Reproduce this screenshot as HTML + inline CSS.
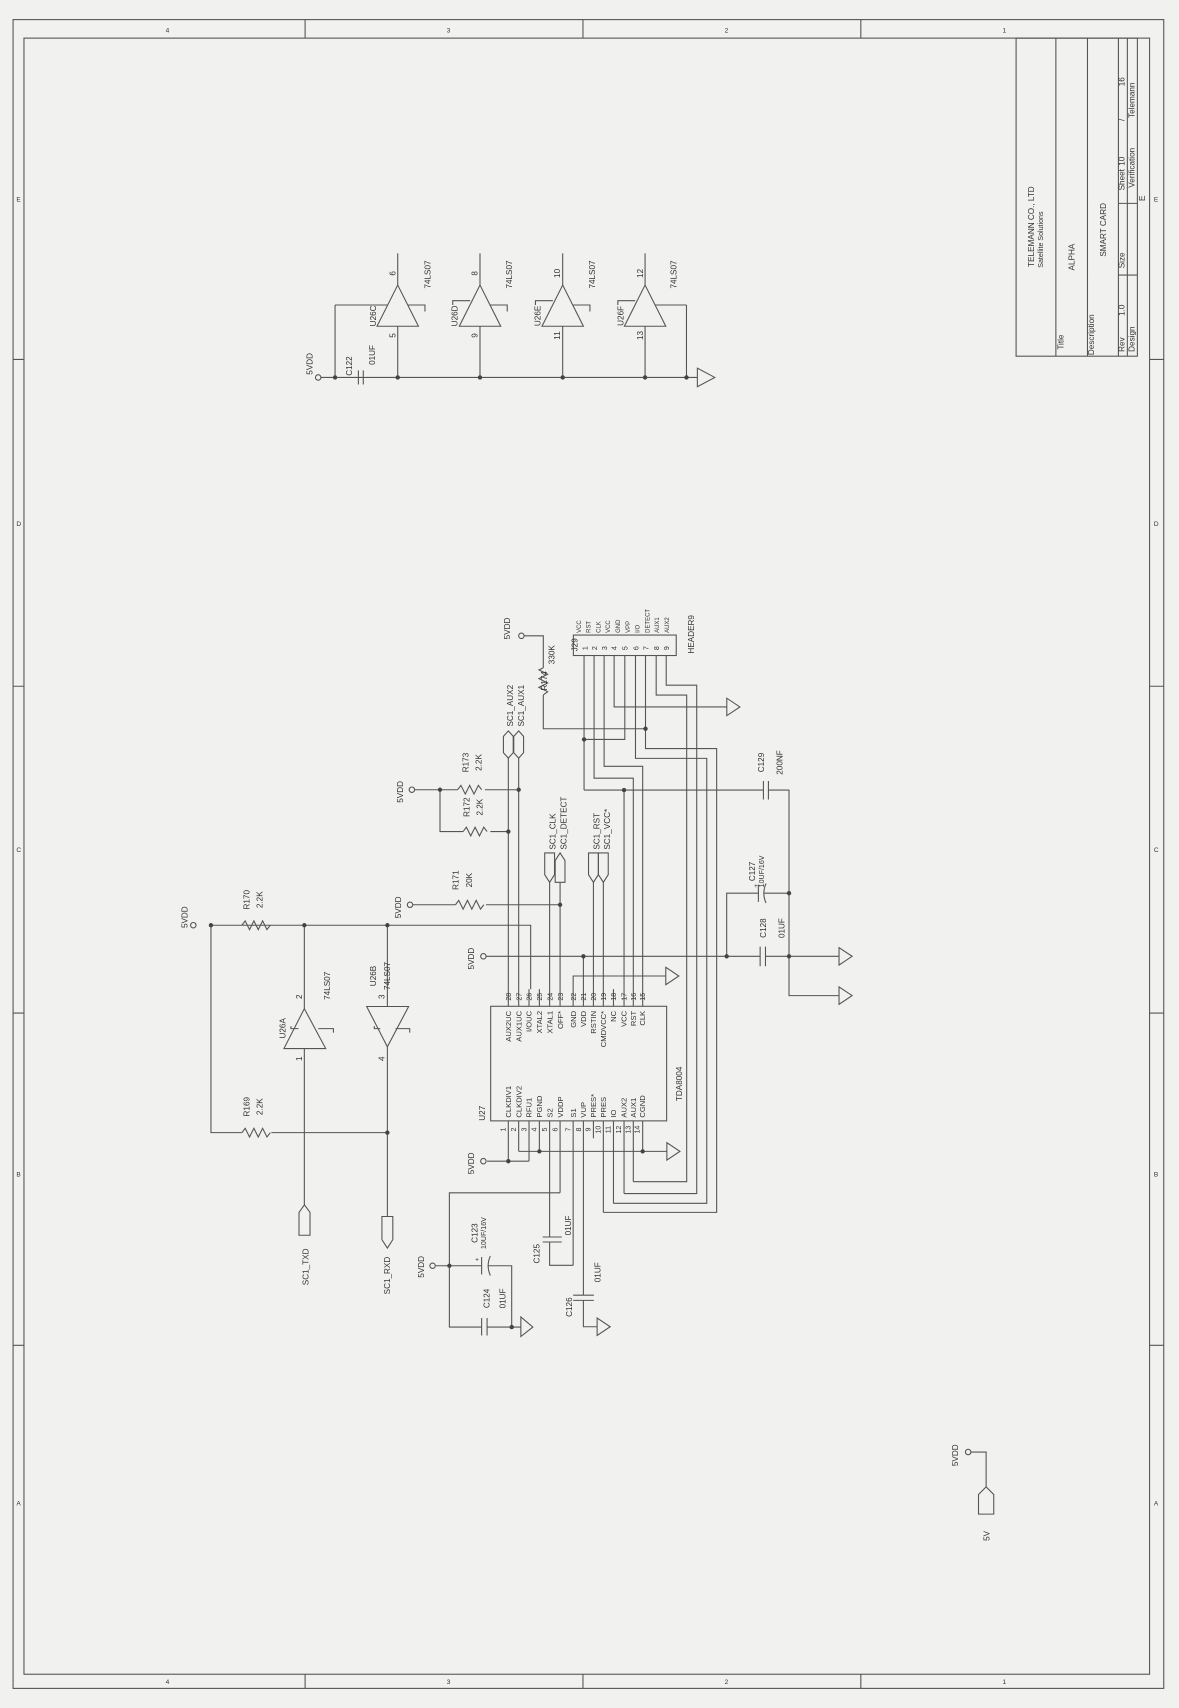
<!DOCTYPE html>
<html><head><meta charset="utf-8"><style>
html,body{margin:0;padding:0;background:#f1f1f0;}
svg{display:block}
text{font-family:"Liberation Sans",sans-serif;fill:#333;}
</style></head><body>
<svg width="1179" height="1708" viewBox="0 0 1082 1568" preserveAspectRatio="none" xmlns="http://www.w3.org/2000/svg">
<rect x="0" y="0" width="1082" height="1568" fill="#f1f1f0"/>
<g stroke="#555" stroke-width="1" fill="none">
<!-- frame -->
<rect x="12" y="18" width="1056" height="1532"/>
<rect x="22" y="35" width="1033" height="1502"/>
<path d="M280 18V35M535 18V35M790 18V35M280 1537V1550M535 1537V1550M790 1537V1550M12 330H22M12 630H22M12 930H22M12 1235H22M1055 330H1068M1055 630H1068M1055 930H1068M1055 1235H1068"/>
<!-- title block -->
<rect x="932.5" y="35" width="111.3" height="292"/>
<path d="M969 35V327M998 35V327M1026.4 35V327M1034.6 35V327M1026.4 252.5H1043.8M1026.4 186.7H1043.8"/>
<!-- top gates -->
<path d="M292 346.5H640M307.5 280V346.5M630 280V346.5M328.9 340V353M333.4 340V353"/>
<polygon points="640,338 640,355 656,346.5"/>
<polygon points="346,299.5 384,299.5 365,261.7"/>
<polygon points="421.5,299.5 459.5,299.5 440.5,261.7"/>
<polygon points="497.4,299.5 535.4,299.5 516.4,261.7"/>
<polygon points="573,299.5 611,299.5 592,261.7"/>
<path d="M365 232.6V261.7M365 299.5V346.5M440.5 232.6V261.7M440.5 299.5V346.5M516.4 232.6V261.7M516.4 299.5V346.5M592 232.6V261.7M592 299.5V346.5"/>
<path d="M307.5 280H356M374 280H390V286M415.5 280V276H431.5M449.5 280H465.5V286M491.4 280V276H507.4M525.4 280H541.4V286M567 280V276H583M601 280H630"/>
<!-- U26A / U26B -->
<path d="M193.6 849.4H487V908M193.6 849.4V1039.8H222M249 1039.8H355.5M279.3 849.4V926M279.3 962.6V1106M355.5 849.4V924M355.5 961V1116.8"/>
<path d="M222 849.4l3 -4l4 8l4 -8l4 8l4 -8l4 8l3 -4"/>
<path d="M222 1039.8l3 -4l4 8l4 -8l4 8l4 -8l4 8l3 -4"/>
<polygon points="260.6,962.6 298.9,962.6 279.3,926"/>
<polygon points="336.5,924 375,924 355.5,961"/>
<path d="M267 942V944.3H274M292 944.3H306V948M343.5 942V944.3H349M363 944.3H376V948"/>
<polygon points="274.4,1134 284.5,1134 284.5,1113 279.4,1106 274.4,1113"/>
<polygon points="350.5,1116.8 360.5,1116.8 360.5,1138 355.5,1145.8 350.5,1138"/>
<!-- U27 -->
<rect x="450.3" y="923.8" width="161.5" height="105.2"/>
<path d="M466.5 908V924M476 908V924M485.5 908V924M495 908V924M504.4 908V924M514 908V924M526 908V924M535.4 908V924M544.6 908V924M553.7 908V924M563 908V924M572.7 908V924M581.2 908V924M589.8 908V924"/>
<path d="M466.5 1029V1066M476 1029V1057M485.5 1029V1066M495 1029V1057M504.4 1029V1135.6M514 1029V1095M526 1029V1161.6M535.4 1029V1189M544.6 1029V1045M553.7 1029V1113M563 1029V1104.7M572.7 1029V1095.7M581.2 1029V1084.8M589.8 1029V1057"/>
<!-- upper nets -->
<path d="M466.5 696V908M476 696V908M378 725H420M445 725H476M403.8 725V763.4H425M450 763.4H466.5"/>
<path d="M420 725l3 -4l4 8l4 -8l4 8l4 -8l3 4"/>
<path d="M425 763.4l3 -4l4 8l4 -8l4 8l4 -8l3 4"/>
<path d="M378 830.6H418M446 830.6H514M504.4 810V908M514 810V908M544.6 810V908M553.7 810V908"/>
<path d="M418 830.6l3 -4l4 8l4 -8l4 8l4 -8l4 8l3 -4"/>
<path d="M526 908V896H611"/>
<polygon points="611,888 611,904 623,896"/>
<path d="M446 877.9H697.6M702.5 877.9H770M535.4 877.9V908M697.6 869V887M702.5 869V887"/>
<polygon points="770,870 770,886 782,877.9"/>
<path d="M666.9 877.9V820H696M701 820H724.1M724.1 725V914H770M696 812V828"/>
<path d="M703 811Q699 820 703 829"/>
<polygon points="770,906 770,922 782,914"/>
<path d="M536 725.3H700.6M705.2 725.3H724.1M700.6 717V734M705.2 717V734M572.7 725.3V908"/>
<!-- header -->
<rect x="526.2" y="583" width="94.4" height="18.8"/>
<path d="M536 601.8V725.3M536 678.8H573.4V601.8M545.2 601.8V714.4H581.2V908M554.4 601.8V703.5H589.8V908M563.6 601.8V649H667"/>
<polygon points="667,641 667,657 679,649"/>
<path d="M583.2 601.8V696.2H648.6V1104.7H563M592.4 601.8V687.2H657.7V1113H553.7M602.2 601.8V638.1H630.2V1084.8H581.2M611.4 601.8V629H639.4V1095.7H572.7"/>
<path d="M481 583.7H498.6V613M498.6 638V669H592.4"/>
<path d="M498.6 613l-4 2l8 4l-8 4l8 4l-8 4l8 4l-4 3"/>
<!-- connectors -->
<polygon points="466.5,671 471,676 471,691 466.5,696 462,691 462,676"/>
<polygon points="476,671 480.5,676 480.5,691 476,696 471.5,691 471.5,676"/>
<polygon points="499.9,783 508.9,783 508.9,803 504.4,810 499.9,803"/>
<polygon points="514,783 518.5,790 518.5,810 509.5,810 509.5,790"/>
<polygon points="540.1,783 549.1,783 549.1,803 544.6,810 540.1,803"/>
<polygon points="549.2,783 558.2,783 558.2,803 553.7,810 549.2,803"/>
<!-- bottom nets -->
<path d="M476 1057H612M447 1066H485.5"/>
<polygon points="612,1049 612,1065 624,1057"/>
<path d="M514 1095H412.4V1218.3H442M447 1218.3H469.6M400 1162H442M447.5 1162H469.6V1218.3H478M442 1210V1226M447 1210V1226M442 1154V1170"/>
<path d="M450 1153Q446 1162 450 1171"/>
<polygon points="478,1209 478,1227 489,1218.3"/>
<path d="M498 1135.6H515.5M498 1140.2H515.5M504.4 1140.2V1161.6H526M526 1189H545M526 1193.8H545M535.4 1193.8V1218H548"/>
<polygon points="548,1210 548,1226 560,1218"/>
<path d="M891 1333H905V1365"/>
<polygon points="898,1390 912,1390 912,1372 905,1365 898,1372"/>
</g>
<!-- circles -->
<g stroke="#555" stroke-width="1" fill="#f1f1f0">
<circle cx="292" cy="346.5" r="2.5"/><circle cx="177.4" cy="849.4" r="2.5"/><circle cx="376.3" cy="830.6" r="2.5"/>
<circle cx="378" cy="725" r="2.5"/><circle cx="443.6" cy="877.9" r="2.5"/><circle cx="443.6" cy="1066" r="2.5"/>
<circle cx="397" cy="1162" r="2.5"/><circle cx="478.5" cy="583.7" r="2.5"/><circle cx="888.5" cy="1333" r="2.5"/>
</g>
<g fill="#444">
<circle cx="307.5" cy="346.5" r="2"/><circle cx="365" cy="346.5" r="2"/><circle cx="440.5" cy="346.5" r="2"/><circle cx="516.4" cy="346.5" r="2"/><circle cx="592" cy="346.5" r="2"/><circle cx="630" cy="346.5" r="2"/>
<circle cx="193.6" cy="849.4" r="2"/><circle cx="279.3" cy="849.4" r="2"/><circle cx="355.5" cy="849.4" r="2"/><circle cx="355.5" cy="1039.8" r="2"/>
<circle cx="403.8" cy="725" r="2"/><circle cx="476" cy="725" r="2"/><circle cx="466.5" cy="763.4" r="2"/><circle cx="514" cy="830.6" r="2"/>
<circle cx="535.4" cy="877.9" r="2"/><circle cx="666.9" cy="877.9" r="2"/><circle cx="724.1" cy="877.9" r="2"/><circle cx="724.1" cy="820" r="2"/>
<circle cx="572.7" cy="725.3" r="2"/><circle cx="536" cy="678.8" r="2"/><circle cx="592.4" cy="669" r="2"/>
<circle cx="466.5" cy="1066" r="2"/><circle cx="495" cy="1057" r="2"/><circle cx="589.8" cy="1057" r="2"/>
<circle cx="412.4" cy="1162" r="2"/><circle cx="469.6" cy="1218.3" r="2"/>
</g>
<!-- frame labels -->
<g font-size="6">
<text x="152" y="30">4</text><text x="410" y="30">3</text><text x="665" y="30">2</text><text x="920" y="30">1</text>
<text x="152" y="1546">4</text><text x="410" y="1546">3</text><text x="665" y="1546">2</text><text x="920" y="1546">1</text>
<text x="15" y="185">E</text><text x="15" y="483">D</text><text x="15" y="782">C</text><text x="15" y="1080">B</text><text x="15" y="1382">A</text>
<text x="1059" y="185">E</text><text x="1059" y="483">D</text><text x="1059" y="782">C</text><text x="1059" y="1080">B</text><text x="1059" y="1382">A</text>
</g>
<!-- rotated texts -->
<g font-size="7.5">
<text transform="translate(949,208) rotate(-90)" text-anchor="middle">TELEMANN CO., LTD</text>
<text transform="translate(957,220) rotate(-90)" text-anchor="middle" font-size="6.5">Satellite Solutions</text>
<text transform="translate(976,321) rotate(-90)">Title</text>
<text transform="translate(986,236) rotate(-90)" text-anchor="middle">ALPHA</text>
<text transform="translate(1004,326) rotate(-90)">Description</text>
<text transform="translate(1015,211) rotate(-90)" text-anchor="middle">SMART CARD</text>
<text transform="translate(1032,323) rotate(-90)">Rev</text>
<text transform="translate(1032,290) rotate(-90)">1.0</text>
<text transform="translate(1032,239) rotate(-90)" text-anchor="middle">Size</text>
<text transform="translate(1032,165) rotate(-90)" text-anchor="middle">Sheet</text>
<text transform="translate(1032,148) rotate(-90)" text-anchor="middle">10</text>
<text transform="translate(1032,110) rotate(-90)" text-anchor="middle">/</text>
<text transform="translate(1032,75) rotate(-90)" text-anchor="middle">16</text>
<text transform="translate(1041,323) rotate(-90)">Design</text>
<text transform="translate(1041,154) rotate(-90)" text-anchor="middle">Verification</text>
<text transform="translate(1041,92) rotate(-90)" text-anchor="middle">Telemann</text>
<text transform="translate(1051,182) rotate(-90)" text-anchor="middle">E</text>

<text transform="translate(287,344) rotate(-90)">5VDD</text>
<text transform="translate(323,345) rotate(-90)">C122</text>
<text transform="translate(344,335) rotate(-90)">01UF</text>
<text transform="translate(395,252) rotate(-90)" text-anchor="middle">74LS07</text>
<text transform="translate(470,252) rotate(-90)" text-anchor="middle">74LS07</text>
<text transform="translate(546,252) rotate(-90)" text-anchor="middle">74LS07</text>
<text transform="translate(621,252) rotate(-90)" text-anchor="middle">74LS07</text>
<text transform="translate(345,290) rotate(-90)" text-anchor="middle">U26C</text>
<text transform="translate(420,290) rotate(-90)" text-anchor="middle">U26D</text>
<text transform="translate(496,290) rotate(-90)" text-anchor="middle">U26E</text>
<text transform="translate(572,290) rotate(-90)" text-anchor="middle">U26F</text>
<text transform="translate(363,251) rotate(-90)" text-anchor="middle">6</text>
<text transform="translate(363,308) rotate(-90)" text-anchor="middle">5</text>
<text transform="translate(438,251) rotate(-90)" text-anchor="middle">8</text>
<text transform="translate(438,308) rotate(-90)" text-anchor="middle">9</text>
<text transform="translate(514,251) rotate(-90)" text-anchor="middle">10</text>
<text transform="translate(514,308) rotate(-90)" text-anchor="middle">11</text>
<text transform="translate(590,251) rotate(-90)" text-anchor="middle">12</text>
<text transform="translate(590,308) rotate(-90)" text-anchor="middle">13</text>

<text transform="translate(172,842) rotate(-90)" text-anchor="middle">5VDD</text>
<text transform="translate(229,826) rotate(-90)" text-anchor="middle">R170</text>
<text transform="translate(241,826) rotate(-90)" text-anchor="middle">2.2K</text>
<text transform="translate(229,1016) rotate(-90)" text-anchor="middle">R169</text>
<text transform="translate(241,1016) rotate(-90)" text-anchor="middle">2.2K</text>
<text transform="translate(262,944) rotate(-90)" text-anchor="middle">U26A</text>
<text transform="translate(303,905) rotate(-90)" text-anchor="middle">74LS07</text>
<text transform="translate(345,896) rotate(-90)" text-anchor="middle">U26B</text>
<text transform="translate(358,896) rotate(-90)" text-anchor="middle">74LS07</text>
<text transform="translate(277,915) rotate(-90)" text-anchor="middle">2</text>
<text transform="translate(277,972) rotate(-90)" text-anchor="middle">1</text>
<text transform="translate(353,915) rotate(-90)" text-anchor="middle">3</text>
<text transform="translate(353,972) rotate(-90)" text-anchor="middle">4</text>
<text transform="translate(283,1163) rotate(-90)" text-anchor="middle">SC1_TXD</text>
<text transform="translate(358,1171) rotate(-90)" text-anchor="middle">SC1_RXD</text>

<text transform="translate(368,833) rotate(-90)" text-anchor="middle">5VDD</text>
<text transform="translate(421,808) rotate(-90)" text-anchor="middle">R171</text>
<text transform="translate(433,808) rotate(-90)" text-anchor="middle">20K</text>
<text transform="translate(370,727) rotate(-90)" text-anchor="middle">5VDD</text>
<text transform="translate(430,700) rotate(-90)" text-anchor="middle">R173</text>
<text transform="translate(442,700) rotate(-90)" text-anchor="middle">2.2K</text>
<text transform="translate(431,741) rotate(-90)" text-anchor="middle">R172</text>
<text transform="translate(443,741) rotate(-90)" text-anchor="middle">2.2K</text>
<text transform="translate(471,667) rotate(-90)">SC1_AUX2</text>
<text transform="translate(481,667) rotate(-90)">SC1_AUX1</text>
<text transform="translate(510,780) rotate(-90)">SC1_CLK</text>
<text transform="translate(520,780) rotate(-90)">SC1_DETECT</text>
<text transform="translate(550,780) rotate(-90)">SC1_RST</text>
<text transform="translate(560,780) rotate(-90)">SC1_VCC*</text>
<text transform="translate(468,577) rotate(-90)" text-anchor="middle">5VDD</text>
<text transform="translate(502,625) rotate(-90)" text-anchor="middle">R174</text>
<text transform="translate(509,601) rotate(-90)" text-anchor="middle">330K</text>
<text transform="translate(530,598) rotate(-90)">J29</text>
<text transform="translate(637,600) rotate(-90)">HEADER9</text>
<text transform="translate(435,880) rotate(-90)" text-anchor="middle">5VDD</text>
<text transform="translate(435,1068) rotate(-90)" text-anchor="middle">5VDD</text>
<text transform="translate(389,1163) rotate(-90)" text-anchor="middle">5VDD</text>
<text transform="translate(445,1022) rotate(-90)" text-anchor="middle">U27</text>
<text transform="translate(626,995) rotate(-90)" text-anchor="middle">TDA8004</text>
<text transform="translate(701,700) rotate(-90)" text-anchor="middle">C129</text>
<text transform="translate(718,700) rotate(-90)" text-anchor="middle">200NF</text>
<text transform="translate(693,800) rotate(-90)" text-anchor="middle">C127</text>
<text transform="translate(701,800) rotate(-90)" text-anchor="middle" font-size="6.5">10UF/16V</text>
<text transform="translate(703,852) rotate(-90)" text-anchor="middle">C128</text>
<text transform="translate(720,852) rotate(-90)" text-anchor="middle">01UF</text>
<text transform="translate(438,1132) rotate(-90)" text-anchor="middle">C123</text>
<text transform="translate(446,1132) rotate(-90)" text-anchor="middle" font-size="6.5">10UF/16V</text>
<text transform="translate(449,1192) rotate(-90)" text-anchor="middle">C124</text>
<text transform="translate(464,1192) rotate(-90)" text-anchor="middle">01UF</text>
<text transform="translate(495,1151) rotate(-90)" text-anchor="middle">C125</text>
<text transform="translate(524,1125) rotate(-90)" text-anchor="middle">01UF</text>
<text transform="translate(525,1200) rotate(-90)" text-anchor="middle">C126</text>
<text transform="translate(551,1168) rotate(-90)" text-anchor="middle">01UF</text>
<text transform="translate(879,1336) rotate(-90)" text-anchor="middle">5VDD</text>
<text transform="translate(908,1410) rotate(-90)" text-anchor="middle">5V</text>
</g>
<!-- header pin names -->
<g font-size="5.5" font-family="Liberation Serif">
<text transform="translate(533,581) rotate(-90)">VCC</text>
<text transform="translate(542,581) rotate(-90)">RST</text>
<text transform="translate(551,581) rotate(-90)">CLK</text>
<text transform="translate(560,581) rotate(-90)">VCC</text>
<text transform="translate(569,581) rotate(-90)">GND</text>
<text transform="translate(578,581) rotate(-90)">VPP</text>
<text transform="translate(587,581) rotate(-90)">I/O</text>
<text transform="translate(596,581) rotate(-90)">DETECT</text>
<text transform="translate(605,581) rotate(-90)">AUX1</text>
<text transform="translate(614,581) rotate(-90)">AUX2</text>
</g>
<g font-size="6.5" text-anchor="middle">
<text transform="translate(539,595) rotate(-90)">1</text><text transform="translate(548,595) rotate(-90)">2</text><text transform="translate(557,595) rotate(-90)">3</text><text transform="translate(566,595) rotate(-90)">4</text><text transform="translate(576,595) rotate(-90)">5</text><text transform="translate(586,595) rotate(-90)">6</text><text transform="translate(595,595) rotate(-90)">7</text><text transform="translate(605,595) rotate(-90)">8</text><text transform="translate(614,595) rotate(-90)">9</text>
</g>
<!-- IC pin numbers -->
<g font-size="6.5" text-anchor="middle">
<text transform="translate(469,915) rotate(-90)">28</text><text transform="translate(478.5,915) rotate(-90)">27</text><text transform="translate(488,915) rotate(-90)">26</text><text transform="translate(497.5,915) rotate(-90)">25</text><text transform="translate(507,915) rotate(-90)">24</text><text transform="translate(516.5,915) rotate(-90)">23</text><text transform="translate(528.5,915) rotate(-90)">22</text><text transform="translate(538,915) rotate(-90)">21</text><text transform="translate(547,915) rotate(-90)">20</text><text transform="translate(556,915) rotate(-90)">19</text><text transform="translate(565.5,915) rotate(-90)">18</text><text transform="translate(575,915) rotate(-90)">17</text><text transform="translate(583.5,915) rotate(-90)">16</text><text transform="translate(592,915) rotate(-90)">15</text>
<text transform="translate(464,1037) rotate(-90)">1</text><text transform="translate(473.5,1037) rotate(-90)">2</text><text transform="translate(483,1037) rotate(-90)">3</text><text transform="translate(492.5,1037) rotate(-90)">4</text><text transform="translate(502,1037) rotate(-90)">5</text><text transform="translate(511.5,1037) rotate(-90)">6</text><text transform="translate(523.5,1037) rotate(-90)">7</text><text transform="translate(533,1037) rotate(-90)">8</text><text transform="translate(542,1037) rotate(-90)">9</text><text transform="translate(551,1037) rotate(-90)">10</text><text transform="translate(560.5,1037) rotate(-90)">11</text><text transform="translate(570,1037) rotate(-90)">12</text><text transform="translate(578.5,1037) rotate(-90)">13</text><text transform="translate(587,1037) rotate(-90)">14</text>
</g>
<g font-size="7">
<text transform="translate(469,928) rotate(-90)" text-anchor="end">AUX2UC</text><text transform="translate(478.5,928) rotate(-90)" text-anchor="end">AUX1UC</text><text transform="translate(488,928) rotate(-90)" text-anchor="end">I/OUC</text><text transform="translate(497.5,928) rotate(-90)" text-anchor="end">XTAL2</text><text transform="translate(507,928) rotate(-90)" text-anchor="end">XTAL1</text><text transform="translate(516.5,928) rotate(-90)" text-anchor="end">OFF*</text><text transform="translate(528.5,928) rotate(-90)" text-anchor="end">GND</text><text transform="translate(538,928) rotate(-90)" text-anchor="end">VDD</text><text transform="translate(547,928) rotate(-90)" text-anchor="end">RSTIN</text><text transform="translate(556,928) rotate(-90)" text-anchor="end">CMDVCC*</text><text transform="translate(565.5,928) rotate(-90)" text-anchor="end">NC</text><text transform="translate(575,928) rotate(-90)" text-anchor="end">VCC</text><text transform="translate(583.5,928) rotate(-90)" text-anchor="end">RST</text><text transform="translate(592,928) rotate(-90)" text-anchor="end">CLK</text>
<text transform="translate(469,1026) rotate(-90)">CLKDIV1</text><text transform="translate(478.5,1026) rotate(-90)">CLKDIV2</text><text transform="translate(488,1026) rotate(-90)">RFU1</text><text transform="translate(497.5,1026) rotate(-90)">PGND</text><text transform="translate(507,1026) rotate(-90)">S2</text><text transform="translate(516.5,1026) rotate(-90)">VDDP</text><text transform="translate(528.5,1026) rotate(-90)">S1</text><text transform="translate(538,1026) rotate(-90)">VUP</text><text transform="translate(547,1026) rotate(-90)">PRES*</text><text transform="translate(556,1026) rotate(-90)">PRES</text><text transform="translate(565.5,1026) rotate(-90)">IO</text><text transform="translate(575,1026) rotate(-90)">AUX2</text><text transform="translate(583.5,1026) rotate(-90)">AUX1</text><text transform="translate(592,1026) rotate(-90)">CGND</text>
</g>
<g font-size="6"><text x="692" y="815">+</text><text x="436" y="1158">+</text></g>
</svg>
</body></html>
